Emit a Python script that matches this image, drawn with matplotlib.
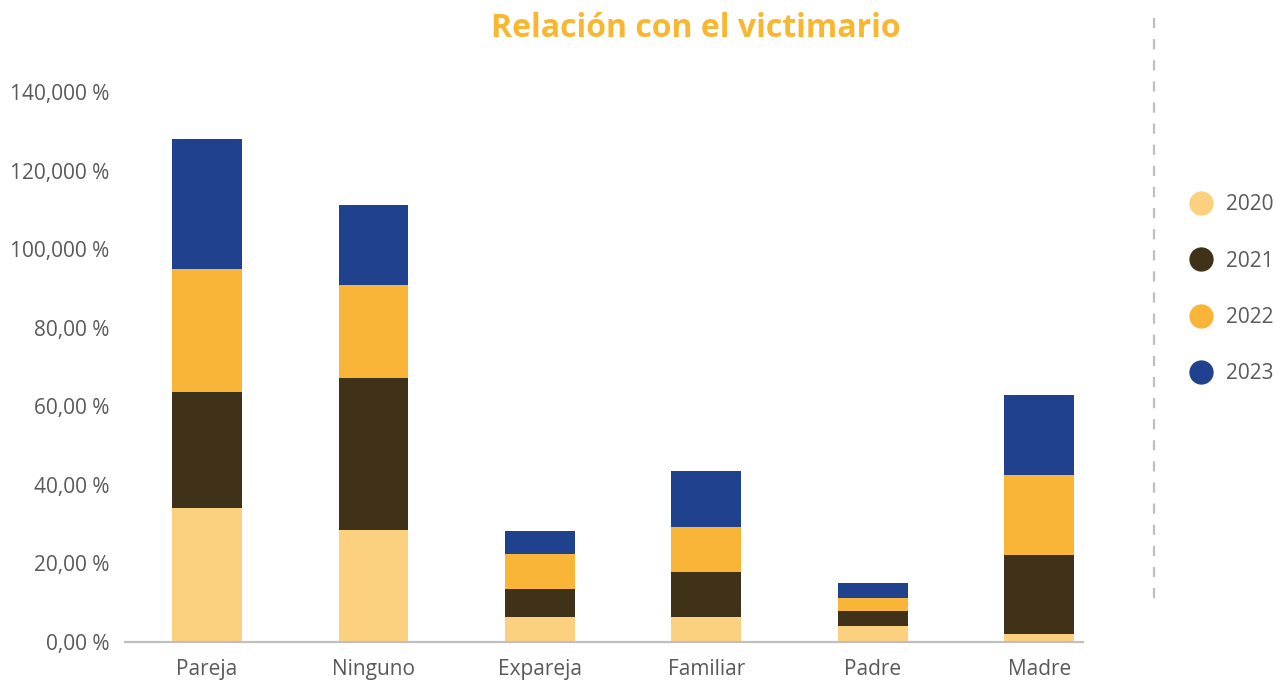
import numpy as np
import matplotlib.pyplot as plt
from matplotlib.lines import Line2D

plt.rcParams['font.family'] = ['Open Sans', 'DejaVu Sans']

categorias = ['Pareja', 'Ninguno', 'Expareja', 'Familiar', 'Padre', 'Madre']
anios = ['2020', '2021', '2022', '2023']
v2020 = [34.2, 28.4, 6.3, 6.3, 4.2, 2.0]
v2021 = [29.5, 38.9, 7.1, 11.6, 3.8, 20.1]
v2022 = [31.2, 23.6, 9.1, 11.4, 3.3, 20.4]
v2023 = [33.1, 20.3, 5.8, 14.2, 3.6, 20.3]
yticks = [0, 20, 40, 60, 80, 100, 120, 140]
ytick_labels = ['0,00 %', '20,00 %', '40,00 %', '60,00 %', '80,00 %',
                '100,000 %', '120,000 %', '140,000 %']

colores = ['#FBD17F', '#403219', '#F9B537', '#20418D']
gris = '#595959'

fig = plt.figure(figsize=(12.86, 6.83), dpi=100)
ax = fig.add_axes([0.0972, 0.060, 0.745, 0.8053])

x = np.arange(len(categorias))
base = np.zeros(len(categorias))
for serie, col, lab in zip([v2020, v2021, v2022, v2023], colores, anios):
    ax.bar(x, serie, width=0.42, bottom=base, color=col, label=lab)
    base += np.array(serie)

ax.set_xlim(-0.493, 5.264)
ax.set_ylim(0, 140)
ax.set_yticks(yticks)
ax.set_yticklabels(ytick_labels)
ax.set_xticks(x)
ax.set_xticklabels(categorias)
ax.tick_params(axis='y', length=0, pad=11, labelsize=15, labelcolor=gris)
ax.tick_params(axis='x', length=0, pad=12, labelsize=15, labelcolor=gris)
for s in ['top', 'right', 'left']:
    ax.spines[s].set_visible(False)
ax.spines['bottom'].set_color('#BFBFBF')
ax.spines['bottom'].set_linewidth(1.6)

fig.text(0.541, 0.958, 'Relación con el victimario', ha='center', va='center',
         fontsize=23, fontweight='bold', color='#F9B731')

# linea discontinua separadora
fig.add_artist(Line2D([0.8974, 0.8974], [0.9736, 0.1200], transform=fig.transFigure,
                      color='#BFBFBF', lw=1.6, dashes=(4.6, 4.9)))

handles = [Line2D([], [], marker='o', ls='', markersize=16.5, color=c) for c in colores]
leg = fig.legend(handles, anios, loc='upper left', bbox_to_anchor=(0.9175, 0.728),
                 frameon=False, fontsize=15, labelspacing=1.7, handletextpad=0.63,
                 handlelength=1.2, borderaxespad=0)
for t in leg.get_texts():
    t.set_color(gris)

fig.savefig('out.png', dpi=100, facecolor='white')
